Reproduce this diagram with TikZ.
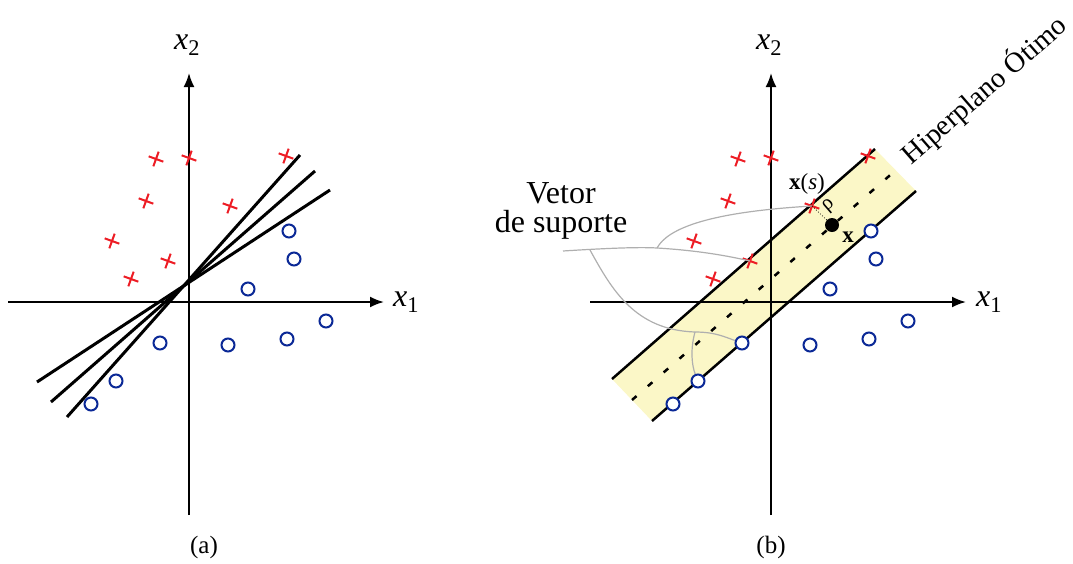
\documentclass[tikz,border=0pt]{standalone}
\usepackage{fontspec}
\setmainfont{Liberation Serif}
\usepackage{xcolor}
\usetikzlibrary{arrows.meta,shapes.misc}

\definecolor{ptred}{RGB}{237,28,36}
\definecolor{ptblue}{RGB}{10,40,150}
\definecolor{bandyellow}{RGB}{251,247,199}
\definecolor{guidegray}{RGB}{175,175,175}

\begin{document}
\begin{tikzpicture}[>={Latex[length=14pt,width=11pt]},x=1pt,y=-1pt,
  axis/.style={->,line width=2pt},
  sepline/.style={line width=3pt},
  redcross/.style={cross out,draw=ptred,line width=2pt,minimum size=9pt,inner sep=0pt,rotate=25},
  bluering/.style={circle,draw=ptblue,fill=white,line width=2pt,minimum size=13pt,inner sep=0pt},
  guide/.style={draw=guidegray,line width=1.2pt},
  lbl/.style={font=\fontsize{32}{29}\selectfont}]
\useasboundingbox (0,0) rectangle (1073,563);

% band of the optimal hyperplane
\coordinate (b1) at (612,379);
\coordinate (b2) at (875,149);
\coordinate (b3) at (916,191);
\coordinate (b4) at (652,421);
\coordinate (m1) at (632,400);
\coordinate (m2) at (896,170);
\fill[bandyellow] (b1) -- (b2) -- (b3) -- (b4) -- cycle;
\draw[line width=2.5pt] (b1) -- (b2);
\draw[line width=2.5pt] (b4) -- (b3);
\draw[line width=2.5pt,dash pattern=on 6pt off 15pt] (m1) -- (m2);

% axes
\draw[axis] (8,302) -- (384,302);
\draw[axis] (189,515) -- (189,73);
\draw[axis] (590,302) -- (966,302);
\draw[axis] (771,515) -- (771,73);

% separating lines (a)
\draw[sepline] (67,417) -- (300,155);
\draw[sepline] (51,402) -- (315,171);
\draw[sepline] (37,382) -- (330,190);

% samples
\foreach \px/\py [count=\i] in {156/159,189/158,286/156,146/201,230/206,112/241,168/261,131/279}{
  \node[redcross] (pa\i) at (\px,\py) {};
  \node[redcross] (pb\i) at (\px+582,\py) {};
}
\foreach \px/\py [count=\i] in {289/231,294/259,248/289,326/321,287/339,228/345,160/343,116/381,91/404}{
  \node[bluering] (qa\i) at (\px,\py) {};
  \node[bluering] (qb\i) at (\px+582,\py) {};
}

% support vector pointers
\coordinate (vsend) at (563,251);
\coordinate (br1) at (657,248);
\coordinate (br2) at (590,250);
\coordinate (br3) at (695,332);
\draw[guide] (vsend) .. controls (610,248) and (640,247) .. (br1)
  .. controls (690,250) and (720,254) .. (pb7.center);
\draw[guide] (br1) .. controls (668,228) and (710,212) .. (pb5.center);
\draw[guide] (br2) .. controls (612,290) and (635,330) .. (br3)
  .. controls (715,332) and (725,337) .. (qb7);
\draw[guide] (br3) .. controls (690,350) and (692,366) .. (qb8);

% point x and its distance
\node[circle,fill=black,minimum size=14pt,inner sep=0pt] (xdot) at (832,225) {};
\draw[dotted,line width=0.8pt] (pb5.center) -- (xdot);

% labels
\node[lbl] (x1a) at (406,302) {\textit{x}\textsubscript{1}};
\node[lbl] (x2a) at (187,45) {\textit{x}\textsubscript{2}};
\node[lbl] (x1b) at (989,302) {\textit{x}\textsubscript{1}};
\node[lbl] (x2b) at (769,45) {\textit{x}\textsubscript{2}};
\node[lbl,align=center] (vslab) at (561,211) {Vetor\\de suporte};
\node[font=\fontsize{28.5}{28.5}\selectfont,rotate=41] (hplab) at (984,90) {Hiperplano Ótimo};
\node[font=\fontsize{23}{23}\selectfont] (xslab) at (807,184) {\textbf{x}(\textit{s})};
\node[font=\fontsize{23}{23}\selectfont] (xlab) at (848,237) {\textbf{x}};
\node[font=\fontsize{21}{21}\selectfont,rotate=41] (rholab) at (829,206) {ρ};
\node[font=\fontsize{25}{25}\selectfont] (capa) at (204,547) {(a)};
\node[font=\fontsize{25}{25}\selectfont] (capb) at (771,547) {(b)};
\end{tikzpicture}
\end{document}
